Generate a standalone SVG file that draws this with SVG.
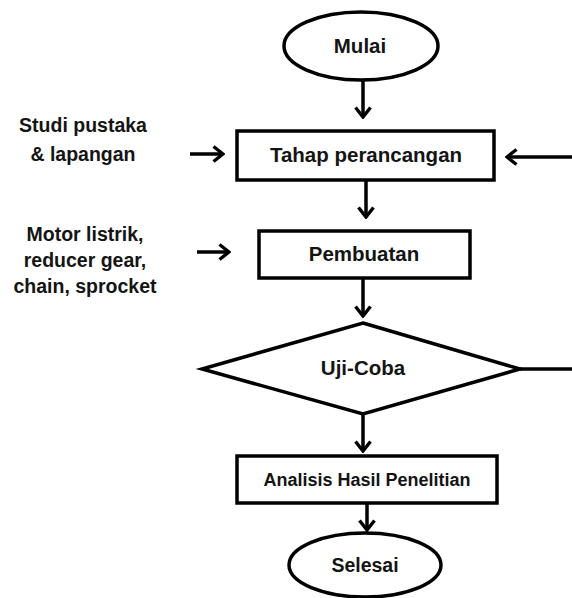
<svg xmlns="http://www.w3.org/2000/svg" width="572" height="598" viewBox="0 0 572 598">
<defs>
<style>
.shape{fill:#fff;stroke:#000;stroke-width:3.5}
.lbl{font-family:"Liberation Sans",Arial,sans-serif;font-weight:bold;font-size:20.5px;fill:#141414;text-anchor:middle}
.side{font-family:"Liberation Sans",Arial,sans-serif;font-weight:bold;font-size:19.5px;fill:#141414;text-anchor:middle}
.conn{stroke:#000;stroke-width:3.5;fill:none}
</style>
<marker id="ah" viewBox="0 0 13 18" refX="11" refY="9" markerWidth="13" markerHeight="18" markerUnits="userSpaceOnUse" orient="auto">
<path d="M1.5,1.5 L11,9 L1.5,16.5" fill="none" stroke="#000" stroke-width="3.4"/>
</marker>
</defs>
<rect width="572" height="598" fill="#fff"/>
<g id="connectors">
<line class="conn" x1="363" y1="81" x2="363" y2="117" marker-end="url(#ah)"/>
<line class="conn" x1="366" y1="181" x2="366" y2="217" marker-end="url(#ah)"/>
<line class="conn" x1="363" y1="279" x2="363" y2="316" marker-end="url(#ah)"/>
<line class="conn" x1="363" y1="414" x2="363" y2="451" marker-end="url(#ah)"/>
<line class="conn" x1="367" y1="504" x2="367" y2="530" marker-end="url(#ah)"/>
<line class="conn" x1="190" y1="154" x2="223" y2="154" marker-end="url(#ah)"/>
<line class="conn" x1="197" y1="252" x2="229" y2="252" marker-end="url(#ah)"/>
<line class="conn" x1="572" y1="157" x2="507" y2="157" marker-end="url(#ah)"/>
<line class="conn" x1="520" y1="369" x2="572" y2="369"/>
</g>
<g id="mulai">
<ellipse class="shape" cx="361" cy="46" rx="77" ry="34"/>
<text class="lbl" x="360" y="53">Mulai</text>
</g>
<g id="tahap">
<rect class="shape" x="237" y="131" width="257" height="49"/>
<text class="lbl" x="366" y="162">Tahap perancangan</text>
</g>
<g id="pembuatan">
<rect class="shape" x="259" y="231" width="211" height="47"/>
<text class="lbl" x="364" y="261">Pembuatan</text>
</g>
<g id="ujicoba">
<polygon class="shape" points="363,323 520,369 363,414 202,369"/>
<text class="lbl" x="363" y="375">Uji-Coba</text>
</g>
<g id="analisis">
<rect class="shape" x="237" y="456" width="260" height="47"/>
<text class="lbl" x="367" y="486" style="font-size:18px">Analisis Hasil Penelitian</text>
</g>
<g id="selesai">
<ellipse class="shape" cx="365" cy="565" rx="76" ry="32"/>
<text class="lbl" x="365" y="572" style="font-size:19.5px">Selesai</text>
</g>
<g id="studi">
<text class="side" x="83" y="132">Studi pustaka</text>
<text class="side" x="83" y="161">&amp; lapangan</text>
</g>
<g id="bahan">
<text class="side" x="85" y="241">Motor listrik,</text>
<text class="side" x="85" y="267">reducer gear,</text>
<text class="side" x="85" y="293">chain, sprocket</text>
</g>
</svg>
